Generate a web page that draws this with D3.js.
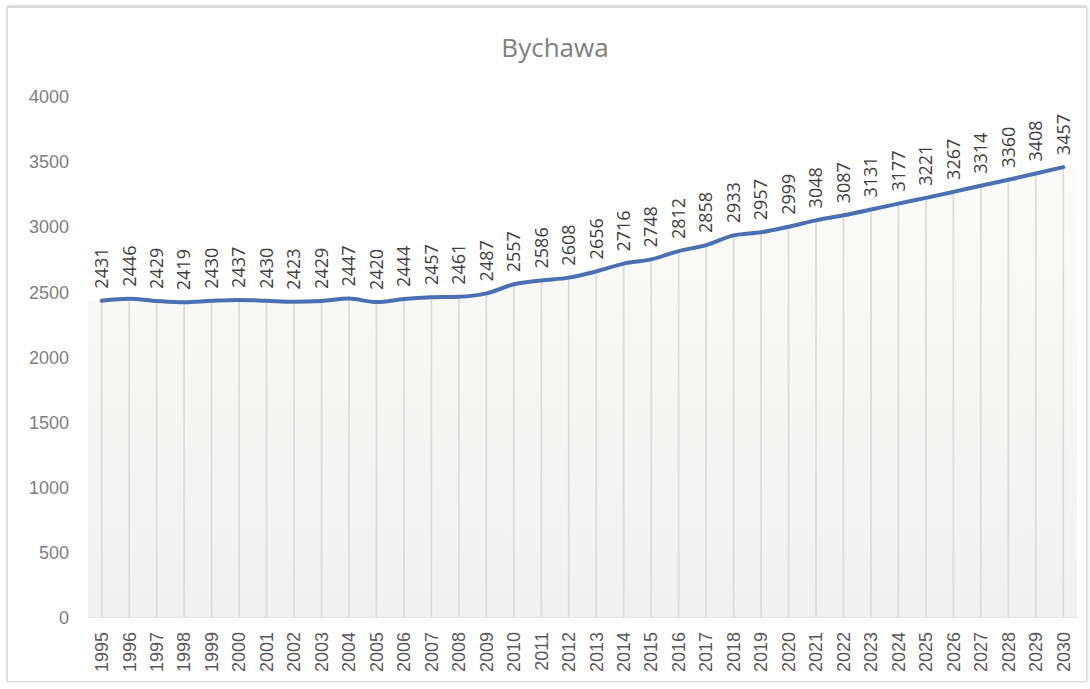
<!DOCTYPE html>
<html><head><meta charset="utf-8">
<script src="https://cdn.jsdelivr.net/npm/d3@7/dist/d3.min.js"></script>
<style>
html,body{margin:0;padding:0;background:#fff;}
svg{display:block;font-family:"Open Sans","Noto Sans",sans-serif;}
</style></head>
<body><svg id="c" width="1090" height="689"></svg>
<script>
const years = ["1995","1996","1997","1998","1999","2000","2001","2002","2003","2004","2005","2006","2007","2008","2009","2010","2011","2012","2013","2014","2015","2016","2017","2018","2019","2020","2021","2022","2023","2024","2025","2026","2027","2028","2029","2030"];
const population = [2431,2446,2429,2419,2430,2437,2430,2423,2429,2447,2420,2444,2457,2461,2487,2557,2586,2608,2656,2716,2748,2812,2858,2933,2957,2999,3048,3087,3131,3177,3221,3267,3314,3360,3408,3457];
const yTicks = [0,500,1000,1500,2000,2500,3000,3500,4000];
const title = "Bychawa";

const svg = d3.select("#c");
const defs = svg.append("defs");
const f = defs.append("filter").attr("id","sh").attr("x","-5%").attr("y","-5%").attr("width","110%").attr("height","110%");
f.append("feDropShadow").attr("dx",0).attr("dy",-1).attr("stdDeviation",1.5).attr("flood-color","#000").attr("flood-opacity",0.25);
const g1 = defs.append("linearGradient").attr("id","ag").attr("x1",0).attr("y1",0).attr("x2",0).attr("y2",1);
g1.append("stop").attr("offset","0%").attr("stop-color","#fbfbf9");
g1.append("stop").attr("offset","100%").attr("stop-color","#f1f1f1");

// frame
svg.append("rect").attr("x",7.5).attr("y",7.5).attr("width",1079).attr("height",674)
  .attr("fill","#fff").attr("stroke","#d9d9d9").attr("stroke-width",1).attr("filter","url(#sh)");

const L = 88, R = 1077, T = 96.5, B = 617;
const x = d3.scaleBand().domain(years).range([L,R]).padding(0);
const cx = d => x(d) + x.bandwidth()/2;
const y = d3.scaleLinear().domain([0,4000]).range([B,T]);

// area under the line (extends flat to plot edges)
const pts = years.map((d,i)=>[cx(d), y(population[i])]);
const areaPts = [[L, pts[0][1]], ...pts, [R, pts[pts.length-1][1]]];
const area = d3.area().x(d=>d[0]).y0(B).y1(d=>d[1]).curve(d3.curveMonotoneX);
svg.append("path").datum(areaPts).attr("d",area).attr("fill","url(#ag)");

// drop lines
svg.append("g").selectAll("line").data(years).join("line")
  .attr("x1",d=>cx(d)).attr("x2",d=>cx(d))
  .attr("y1",(d,i)=>y(population[i])).attr("y2",B)
  .attr("stroke","#dcdcdc").attr("stroke-width",1.8);

// baseline
svg.append("line").attr("x1",L).attr("x2",R).attr("y1",B+0.5).attr("y2",B+0.5).attr("stroke","#e3e3e3").attr("stroke-width",1);

// y axis
const ya = d3.axisLeft(y).tickValues(yTicks).tickFormat(d3.format("d")).tickSize(0).tickPadding(0);
const yg = svg.append("g").attr("transform",`translate(69,0)`).call(ya);
yg.select(".domain").remove();
yg.selectAll("text").attr("fill","#7f7f7f").style("font-size","18px").attr("dy","0.35em");

// x axis
const xa = d3.axisBottom(x).tickSize(0).tickPadding(0);
const xg = svg.append("g").attr("transform",`translate(0,${B})`).call(xa);
xg.select(".domain").remove();
xg.selectAll("text").attr("fill","#595959").style("font-size","18px")
  .attr("text-anchor","end").attr("transform","translate(0,15) rotate(-90)").attr("x",0).attr("y",0).attr("dy","0.35em");

// line
const line = d3.line().x(d=>d[0]).y(d=>d[1]).curve(d3.curveMonotoneX);
svg.append("path").datum(pts).attr("d",line).attr("fill","none")
  .attr("stroke","#4a70b3").attr("stroke-width",4).attr("stroke-linejoin","round").attr("stroke-linecap","round");

// data labels
svg.append("g").selectAll("text").data(years).join("text")
  .attr("transform",(d,i)=>`translate(${cx(d)},${y(population[i])-12}) rotate(-90)`)
  .attr("text-anchor","start").attr("dy","0.35em")
  .attr("fill","#404040").style("font-size","18px")
  .text((d,i)=>population[i]);

// title
svg.append("text").attr("x",555).attr("y",57).attr("text-anchor","middle")
  .attr("fill","#808080").style("font-size","26px").text(title);
</script></body></html>
